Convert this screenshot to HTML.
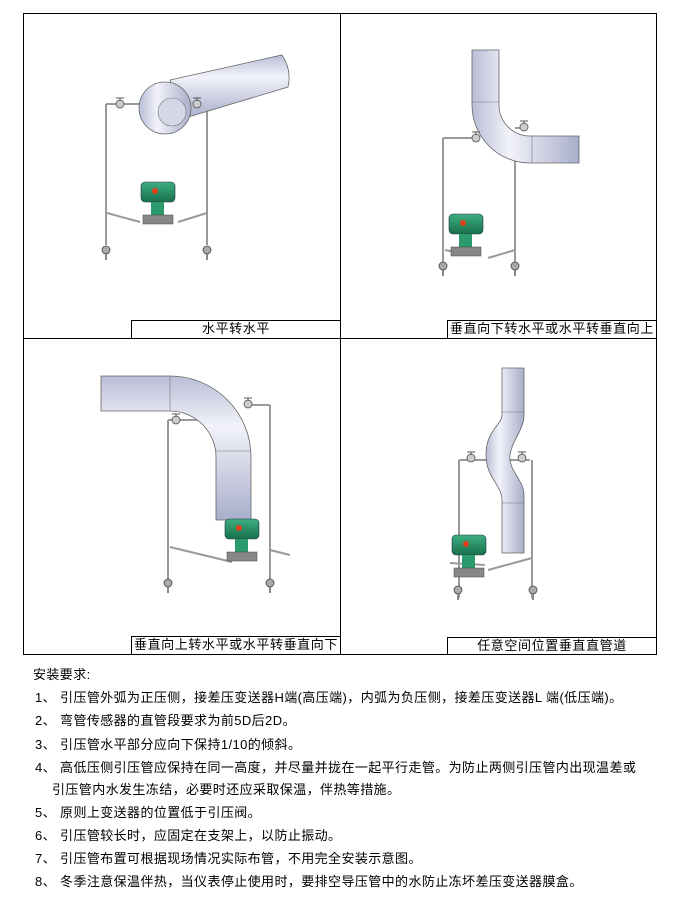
<!DOCTYPE html>
<html><head><meta charset="utf-8"><style>
html,body{margin:0;padding:0;background:#fff;width:680px;height:900px;overflow:hidden}
body{position:relative;font-family:"Liberation Sans","Noto Sans CJK SC","WenQuanYi Zen Hei",sans-serif;color:#000}
.cap{position:absolute;border:1px solid #000;font-size:13px;line-height:16px;text-align:center;background:#fff;letter-spacing:0.6px;white-space:nowrap;overflow:hidden}
.t{position:absolute;font-size:13px;line-height:14px;white-space:nowrap;left:35px;letter-spacing:0.4px}
svg{position:absolute;left:0;top:0}
</style></head><body>
<svg width="680" height="900" viewBox="0 0 680 900">
<defs>
<linearGradient id="pv" x1="0" y1="0" x2="1" y2="0"><stop offset="0" stop-color="#b9bdd6"/><stop offset=".35" stop-color="#f2f3fa"/><stop offset="1" stop-color="#a9aecb"/></linearGradient>
<linearGradient id="ph" x1="0" y1="0" x2="0" y2="1"><stop offset="0" stop-color="#b9bdd6"/><stop offset=".35" stop-color="#f2f3fa"/><stop offset="1" stop-color="#a9aecb"/></linearGradient>
<linearGradient id="gr" x1="0" y1="0" x2="0" y2="1"><stop offset="0" stop-color="#3fae82"/><stop offset="1" stop-color="#17704c"/></linearGradient>
<g id="tx"><rect x="0" y="0" width="34" height="20" rx="4" fill="url(#gr)" stroke="#234" stroke-width=".6"/><circle cx="14" cy="9" r="3" fill="#e0401a"/><rect x="10" y="20" width="13" height="13" fill="#2b9a6d"/><rect x="2" y="33" width="30" height="9" fill="#888" stroke="#444" stroke-width=".5"/></g>
<g id="vv"><circle cx="0" cy="0" r="4" fill="#ccc" stroke="#555" stroke-width=".8"/><line x1="-4" y1="-6" x2="4" y2="-6" stroke="#555"/><line x1="0" y1="-6" x2="0" y2="-3" stroke="#555"/></g>
<g id="bv"><circle cx="0" cy="0" r="4" fill="#aaa" stroke="#444" stroke-width=".8"/><line x1="0" y1="4" x2="0" y2="10" stroke="#888" stroke-width="2"/></g>
</defs>
<g fill="none" stroke="#000" stroke-width="1">
<rect x="23.5" y="13.5" width="633" height="641"/>
<line x1="340.5" y1="13" x2="340.5" y2="654"/>
<line x1="23" y1="338.5" x2="657" y2="338.5"/>
</g>
<!-- cell 1 -->
<g stroke="#999" stroke-width="2" fill="none">
<path d="M106,104 V245 M207,104 V245 M106,104 H195 M107,213 L140,222 M207,213 L178,222"/>
</g>
<path d="M170,80 L282,55 Q292,70 288,87 L185,118 Z" fill="url(#ph)" stroke="#666" stroke-width=".8"/>
<circle cx="165" cy="108" r="26" fill="url(#pv)" stroke="#666" stroke-width=".8"/>
<circle cx="172" cy="112" r="14" fill="#d4d7e8" stroke="#777" stroke-width=".6"/>
<use href="#vv" x="120" y="104"/><use href="#vv" x="197" y="104"/>
<use href="#tx" x="141" y="182"/>
<use href="#bv" x="106" y="250"/><use href="#bv" x="207" y="250"/>
<!-- cell 2 -->
<g stroke="#999" stroke-width="2" fill="none">
<path d="M443,138 V268 M515,158 V268 M443,138 H478 M515,128 H528 M445,250 L470,255 M515,250 L488,258"/>
</g>
<path d="M472,50 L499,50 L499,105 A31,31 0 0 0 530,136 L579,136 L579,163 L530,163 A58,58 0 0 1 472,105 Z" fill="url(#pv)" stroke="#666" stroke-width=".8"/>
<line x1="472" y1="102" x2="499" y2="102" stroke="#777" stroke-width=".6"/>
<line x1="532" y1="136" x2="532" y2="163" stroke="#777" stroke-width=".6"/>
<use href="#vv" x="476" y="138"/><use href="#vv" x="524" y="127"/>
<use href="#tx" x="449" y="214"/>
<use href="#bv" x="443" y="266"/><use href="#bv" x="515" y="266"/>
<!-- cell 3 -->
<g stroke="#999" stroke-width="2" fill="none">
<path d="M168,420 V590 M270,405 V590 M168,420 H200 M250,405 H270 M170,547 L232,562 M270,550 L290,555"/>
</g>
<path d="M101,376 L170,376 A81,81 0 0 1 251,457 L251,520 L216,520 L216,457 A46,46 0 0 0 170,411 L101,411 Z" fill="url(#ph)" stroke="#666" stroke-width=".8"/>
<line x1="170" y1="376" x2="170" y2="411" stroke="#777" stroke-width=".6"/>
<line x1="216" y1="451" x2="251" y2="451" stroke="#777" stroke-width=".6"/>
<use href="#vv" x="176" y="420"/><use href="#vv" x="248" y="404"/>
<use href="#tx" x="225" y="519"/>
<use href="#bv" x="168" y="583"/><use href="#bv" x="270" y="583"/>
<!-- cell 4 -->
<g stroke="#999" stroke-width="2" fill="none">
<path d="M459,460 V598 M532,460 V598 M459,460 H530 M450,563 L485,565 M532,558 L488,570"/>
</g>
<path d="M502,368 L524,368 L524,415 C524,430 512,440 510,455 C508,470 524,480 524,495 L524,553 L502,553 L502,500 C502,485 486,478 486,455 C486,430 502,425 502,415 Z" fill="url(#pv)" stroke="#666" stroke-width=".8"/>
<line x1="502" y1="412" x2="524" y2="412" stroke="#777" stroke-width=".6"/>
<line x1="502" y1="503" x2="524" y2="503" stroke="#777" stroke-width=".6"/>
<use href="#vv" x="471" y="458"/><use href="#vv" x="522" y="458"/>
<use href="#tx" x="452" y="535"/>
<use href="#bv" x="458" y="590"/><use href="#bv" x="533" y="590"/>
</svg>
<div class="cap" style="left:131px;top:320px;width:208px;height:17px">水平转水平</div>
<div class="cap" style="left:447px;top:320px;width:208px;height:17px">垂直向下转水平或水平转垂直向上</div>
<div class="cap" style="left:131px;top:636px;width:208px;height:17px">垂直向上转水平或水平转垂直向下</div>
<div class="cap" style="left:447px;top:637px;width:208px;height:16px">任意空间位置垂直直管道</div>
<div class="t" style="left:33px;top:668px">安装要求:</div>
<div class="t" style="top:691px">1、 引压管外弧为正压侧，接差压变送器H端(高压端)，内弧为负压侧，接差压变送器L 端(低压端)。</div>
<div class="t" style="top:714px">2、 弯管传感器的直管段要求为前5D后2D。</div>
<div class="t" style="top:738px">3、 引压管水平部分应向下保持1/10的倾斜。</div>
<div class="t" style="top:761px">4、 高低压侧引压管应保持在同一高度，并尽量并拢在一起平行走管。为防止两侧引压管内出现温差或</div>
<div class="t" style="top:783px;left:52px">引压管内水发生冻结，必要时还应采取保温，伴热等措施。</div>
<div class="t" style="top:806px">5、 原则上变送器的位置低于引压阀。</div>
<div class="t" style="top:829px">6、 引压管较长时，应固定在支架上，以防止振动。</div>
<div class="t" style="top:852px">7、 引压管布置可根据现场情况实际布管，不用完全安装示意图。</div>
<div class="t" style="top:875px">8、 冬季注意保温伴热，当仪表停止使用时，要排空导压管中的水防止冻坏差压变送器膜盒。</div>
</body></html>
